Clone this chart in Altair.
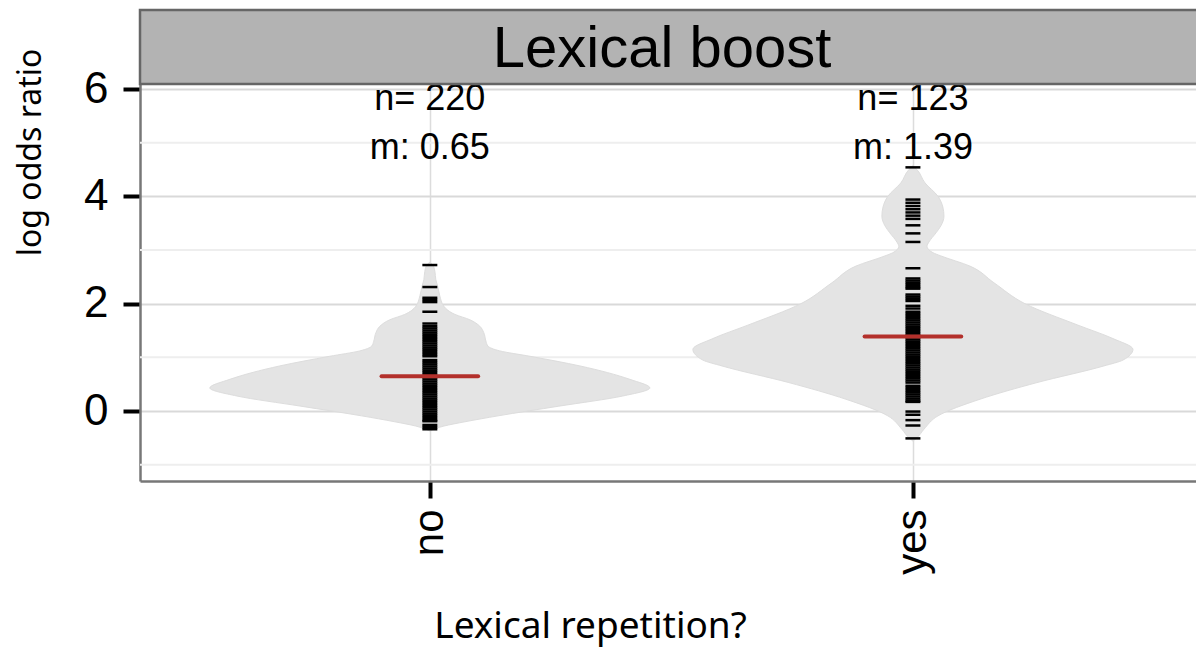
import altair as alt
import pandas as pd

# ---------------- data ----------------
groups = ["no", "yes"]
n_obs = [220, 123]
means = [0.65, 1.39]

# violin outlines: value and relative density (1 = widest)
no_prof_y = [-0.37, -0.28, -0.20, -0.09, 0.09, 0.28, 0.43, 0.59, 0.84, 1.02, 1.12,
             1.21, 1.30, 1.46, 1.58, 1.70, 1.80, 1.95, 2.15, 2.32, 2.45, 2.60, 2.72, 2.77]
no_prof_w = [0.0, 0.064, 0.16, 0.31, 0.586, 0.877, 1.0, 0.909, 0.682, 0.455, 0.318,
             0.264, 0.255, 0.245, 0.227, 0.182, 0.114, 0.064, 0.045, 0.036, 0.027, 0.023, 0.014, 0.0]
yes_prof_y = [-0.56, -0.50, -0.34, -0.09, 0.22, 0.53, 0.84, 0.95, 1.15, 1.35, 1.60, 2.00,
              2.39, 2.70, 2.89, 2.95, 3.07, 3.15, 3.32, 3.45, 3.63, 3.80, 4.00, 4.25, 4.50, 4.57]
yes_prof_w = [0.0, 0.018, 0.05, 0.114, 0.305, 0.564, 0.868, 0.955, 1.0, 0.909, 0.75, 0.509,
              0.368, 0.259, 0.127, 0.091, 0.064, 0.073, 0.105, 0.127, 0.141, 0.136, 0.114, 0.055, 0.018, 0.0]

# individual observations (bean lines)
no_points = [2.72, 2.31, 2.11, 2.07, 2.03, 1.85, 1.63, 1.58,
             1.54, 1.50, 1.46, 1.42, 1.38, 1.34, 1.30, 1.26, 1.22, 1.18, 1.14, 1.10, 1.06, 1.02,
             0.95, 0.91, 0.87, 0.83, 0.79, 0.75, 0.71, 0.67, 0.63, 0.59, 0.55, 0.51, 0.47, 0.43,
             0.39, 0.35, 0.31, 0.27, 0.23, 0.19, 0.15, 0.11, 0.07, 0.03, -0.01, -0.05, -0.09,
             -0.13, -0.17, -0.19, -0.26, -0.30, -0.34]
yes_points = [4.54, 3.94, 3.88, 3.82, 3.76, 3.70, 3.64, 3.58, 3.46, 3.31, 3.15, 2.66,
              2.47, 2.43, 2.39, 2.35, 2.31, 2.28, 2.17, 2.13, 2.09, 2.05, 1.96, 1.91,
              1.85, 1.81, 1.77, 1.73, 1.69, 1.65, 1.61, 1.57, 1.53, 1.49, 1.45, 1.41, 1.37,
              1.33, 1.29, 1.25, 1.21, 1.17, 1.13, 1.09, 1.05, 1.01, 0.97, 0.93, 0.89, 0.85,
              0.81, 0.77, 0.73, 0.69, 0.65, 0.61, 0.57, 0.53,
              0.47, 0.43, 0.39, 0.35, 0.31, 0.27, 0.23, 0.19, 0.17,
              -0.01, -0.07, -0.17, -0.27, -0.51]

major_breaks = [0, 2, 4, 6]
minor_breaks = [-1, 1, 3, 5]
strip_title = "Lexical boost"
x_title = "Lexical repetition?"
y_title = "log odds ratio"

# ---------------- tables ----------------
W, H = 1056, 471
HALF_VIOLIN = 0.4555
HALF_TICK = 0.0155
HALF_MEAN = 0.10

vrows = []
for gi, (g, ys, ws) in enumerate([("no", no_prof_y, no_prof_w), ("yes", yes_prof_y, yes_prof_w)]):
    for y, w in zip(ys, ws):
        vrows.append({"group": g, "gi": gi, "y": y, "w": w})
vdf = pd.DataFrame(vrows)

prows = []
for gi, (g, pts) in enumerate([("no", no_points), ("yes", yes_points)]):
    for v in pts:
        prows.append({"group": g, "gi": gi, "y": v})
pdf = pd.DataFrame(prows)

mdf = pd.DataFrame({
    "group": groups,
    "gi": list(range(len(groups))),
    "m": means,
    "nlab": [f"n= {n}" for n in n_obs],
    "mlab": [f"m: {m:.2f}" for m in means],
})
minor_df = pd.DataFrame({"v": minor_breaks})
strip_df = pd.DataFrame({"t": [strip_title]})

label_expr = " : ".join(
    [f"datum.value == {i} ? '{g}'" for i, g in enumerate(groups)] + ["''"]
)

xscale = alt.Scale(domain=[-0.6, 1.586], nice=False, zero=False)
yscale = alt.Scale(domain=[-1.304, 7.472], nice=False, zero=False)

xaxis = alt.Axis(
    values=[0, 1], labelExpr=label_expr, title=x_title, labelAngle=-90,
    labelFont="Liberation Sans", labelFontSize=42, labelColor="black", labelPadding=11,
    tickColor="black", tickWidth=4, tickSize=17,
    domainColor="#777777", domainWidth=2.5,
    grid=True, gridColor="#dcdcdc", gridWidth=1.5,
    titleFont="Noto Sans", titleFontSize=37, titleFontWeight="normal", titleColor="black",
    titleX=450, titleY=156, titleBaseline="alphabetic", titleAnchor="middle", titleAlign="center",
)
yaxis = alt.Axis(
    values=major_breaks, title=y_title,
    labelFont="Liberation Sans", labelFontSize=44, labelColor="black", labelPadding=15,
    tickColor="black", tickWidth=4, tickSize=17,
    domainColor="#777777", domainWidth=2.5,
    grid=True, gridColor="#d9d9d9", gridWidth=2,
    titleFont="Noto Sans", titleFontSize=32, titleFontWeight="normal", titleColor="black",
    titleX=-100, titleY=142, titleAngle=-90, titleBaseline="alphabetic", titleAlign="center",
)

minor = alt.Chart(minor_df).mark_rule(color="#eeeeee", strokeWidth=2).encode(
    y=alt.Y("v:Q", scale=yscale, axis=yaxis),
    x=alt.value(0), x2=alt.value(W),
)

violin = alt.Chart(vdf).transform_calculate(
    lo=f"datum.gi - datum.w * {HALF_VIOLIN}",
    hi=f"datum.gi + datum.w * {HALF_VIOLIN}",
).mark_area(orient="horizontal", interpolate="monotone", fill="#e4e4e4",
            stroke="#dddddd", strokeWidth=1).encode(
    y=alt.Y("y:Q", scale=yscale),
    x=alt.X("lo:Q", scale=xscale, axis=xaxis),
    x2="hi:Q",
    detail="group:N",
)

beans = alt.Chart(pdf).transform_calculate(
    lo=f"datum.gi - {HALF_TICK}", hi=f"datum.gi + {HALF_TICK}"
).mark_rule(color="black", strokeWidth=2.5).encode(
    y=alt.Y("y:Q", scale=yscale),
    x=alt.X("lo:Q", scale=xscale),
    x2="hi:Q",
)

mean_line = alt.Chart(mdf).transform_calculate(
    lo=f"datum.gi - {HALF_MEAN}", hi=f"datum.gi + {HALF_MEAN}"
).mark_rule(color="#b3302b", strokeWidth=4, strokeCap="round").encode(
    y=alt.Y("m:Q", scale=yscale),
    x=alt.X("lo:Q", scale=xscale),
    x2="hi:Q",
)

ntext = alt.Chart(mdf).mark_text(font="Liberation Sans", fontSize=36, color="black",
                                 align="center", baseline="alphabetic").encode(
    x=alt.X("gi:Q", scale=xscale), y=alt.value(100), text="nlab:N")
mtext = alt.Chart(mdf).mark_text(font="Liberation Sans", fontSize=36, color="black",
                                 align="center", baseline="alphabetic").encode(
    x=alt.X("gi:Q", scale=xscale), y=alt.value(149), text="mlab:N")

strip = alt.Chart(strip_df).mark_rect(fill="#b3b3b3", stroke="#666666", strokeWidth=2.5).encode(
    x=alt.value(0), x2=alt.value(W + 20), y=alt.value(0), y2=alt.value(74))
strip_text = alt.Chart(strip_df).mark_text(font="Liberation Sans", fontSize=58, color="black",
                                           align="center", baseline="alphabetic").encode(
    x=alt.value(522), y=alt.value(57), text="t:N")

chart = alt.layer(minor, violin, beans, mean_line, ntext, mtext, strip, strip_text).properties(
    width=W, height=H,
    autosize=alt.AutoSizeParams(type="none"),
    padding={"left": 140, "top": 10, "right": 0, "bottom": 168},
    background="white",
).configure_view(stroke=None)

chart.save("out.html", embed_options={"renderer": "svg", "actions": False})
